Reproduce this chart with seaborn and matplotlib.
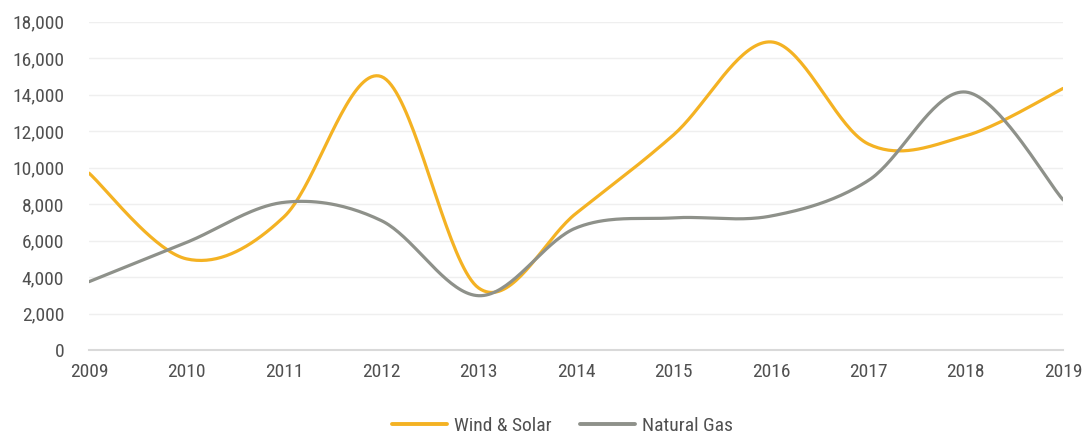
import numpy as np
import pandas as pd
import matplotlib
matplotlib.use("Agg")
import matplotlib.pyplot as plt
from matplotlib import font_manager
from matplotlib.ticker import FuncFormatter
import seaborn as sns

# -----------------------------------------------------------
# Data
# -----------------------------------------------------------
years = [2009, 2010, 2011, 2012, 2013, 2014, 2015, 2016, 2017, 2018, 2019]
wind_solar = [9700, 5000, 7300, 15000, 3400, 7500, 11800, 16900, 11300, 11750, 14350]
natural_gas = [3750, 5900, 8100, 7100, 2980, 6700, 7250, 7350, 9300, 14150, 8230]

series_names = ["Wind & Solar", "Natural Gas"]
colors = {"Wind & Solar": "#F4B223", "Natural Gas": "#8E918A"}


def smooth(xs, ys, n=40):
    # Excel-style smoothed line (cubic bezier, catmull-rom control points)
    pts = np.column_stack([xs, ys]).astype(float)
    ext = np.vstack([pts[0], pts, pts[-1]])
    out = []
    t = np.linspace(0, 1, n)[:, None]
    for i in range(len(pts) - 1):
        p0, p3 = ext[i + 1], ext[i + 2]
        c1 = p0 + (ext[i + 2] - ext[i]) / 6
        c2 = p3 - (ext[i + 3] - ext[i + 1]) / 6
        seg = ((1 - t) ** 3) * p0 + 3 * ((1 - t) ** 2) * t * c1 + 3 * (1 - t) * t ** 2 * c2 + t ** 3 * p3
        out.append(seg if i == 0 else seg[1:])
    return np.vstack(out)


frames = []
for name, vals in zip(series_names, [wind_solar, natural_gas]):
    c = smooth(years, vals)
    frames.append(pd.DataFrame({"year": c[:, 0], "value": c[:, 1], "series": name}))
df = pd.concat(frames, ignore_index=True)

# -----------------------------------------------------------
# Font: pick a narrow face if one exists
# -----------------------------------------------------------
sns.set_style("white")
names = {f.name for f in font_manager.fontManager.ttflist}
narrow = [n for n in ["Roboto Condensed", "Liberation Sans Narrow", "DejaVu Sans Condensed"] if n in names]
if narrow:
    plt.rcParams["font.family"] = [narrow[0], "DejaVu Sans"]
else:
    plt.rcParams["font.family"] = ["DejaVu Sans"]
    plt.rcParams["font.stretch"] = "condensed"

# -----------------------------------------------------------
# Plot
# -----------------------------------------------------------
fig = plt.figure(figsize=(10.86, 4.37), dpi=100)
ax = fig.add_axes([0.082, 0.199, 0.897, 0.751])

sns.lineplot(data=df, x="year", y="value", hue="series", palette=colors,
             hue_order=series_names, sort=False, estimator=None, units="series",
             linewidth=2.3, ax=ax, legend=False)

ax.set_xlim(2009, 2019)
ax.set_ylim(0, 18000)
ax.set_yticks(range(0, 18001, 2000))
ax.set_xticks(years)
ax.yaxis.set_major_formatter(FuncFormatter(lambda v, p: f"{int(v):,}"))
ax.grid(axis="y", color="#EFEFEF", linewidth=1)
ax.set_axisbelow(True)
for s in ["top", "right", "left"]:
    ax.spines[s].set_visible(False)
ax.spines["bottom"].set_color("#D9D9D9")
ax.spines["bottom"].set_linewidth(1.5)
ax.tick_params(axis="both", length=0, labelsize=14, colors="#505050")
ax.tick_params(axis="x", pad=9)
ax.tick_params(axis="y", pad=18)
ax.set_xlabel("")
ax.set_ylabel("")

handles = [plt.Line2D([], [], color=colors[n], linewidth=2.8) for n in series_names]
fig.legend(handles, series_names, loc="lower center", bbox_to_anchor=(0.518, -0.035),
           ncol=2, frameon=False, fontsize=14, handlelength=2.8, columnspacing=1.5,
           handletextpad=0.35, labelcolor="#505050")

fig.savefig("out.png", dpi=100)
